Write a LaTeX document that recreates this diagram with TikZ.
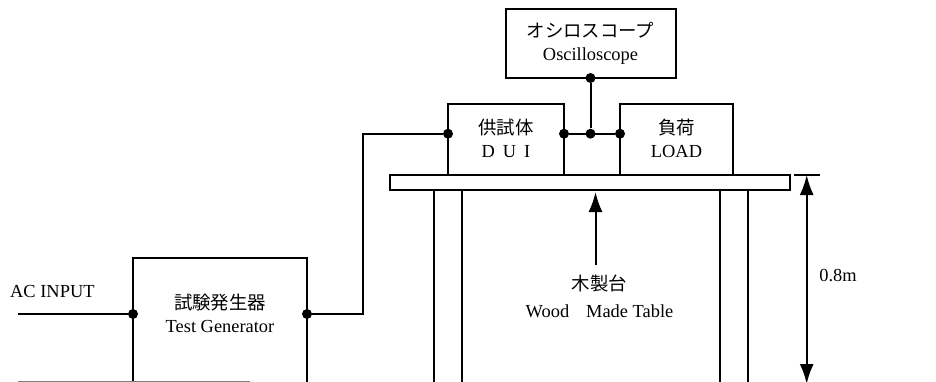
\documentclass[tikz,border=0pt]{standalone}
\usepackage{fontspec}
\setmainfont{Liberation Serif}
\newfontfamily\jpfont{Noto Sans CJK JP}
\usepackage{xcolor}
\usetikzlibrary{positioning,arrows.meta}

\begin{document}
\begin{tikzpicture}[x=1pt, y=-1pt, font=\fontsize{18.4}{23}\selectfont,
	unit/.style={
		rectangle, draw = black, line width = 2pt, fill = white, align = center,
		inner sep = 0pt, outer sep = 0pt},
	label/.style={align = center, inner sep = 0pt, text depth = 0pt},
	dot/.style={circle, fill = black, inner sep = 0pt, minimum size = 10pt},
	wire/.style={line width = 2pt},
	leg/.style={line width = 1.8pt},
	pointer/.style={line width = 2pt, -{Latex[length=20pt,width=14pt]}}]
	\path[clip, use as bounding box] (0,0) rectangle (936,382);

	% table and units
	\node (table) [unit, minimum width = 400pt, minimum height = 15pt] at (590,182.5) {};
	\node (dui) [unit, minimum width = 116pt, minimum height = 71pt] at (506,139.5) {{\jpfont 供試体}\\D\hspace{8pt}U\hspace{8pt}I\rule[-2pt]{0pt}{0pt}};
	\node (load) [unit, minimum width = 113pt, minimum height = 71pt] at (676.5,139.5) {{\jpfont 負荷}\\LOAD\rule[-2pt]{0pt}{0pt}};
	\node (scope) [unit, minimum width = 170pt, minimum height = 69pt] at (590.5,43.5) {{\jpfont オシロスコープ}\\Oscilloscope\rule[-4pt]{0pt}{0pt}};
	\node (gen) [unit, minimum width = 174pt, minimum height = 200pt] at (220,358) {};
	\node (genlabel) [label] at (220,313) {{\jpfont 試験発生器}\\Test Generator};

	% contact points
	\node (duiin) [dot] at (dui.west |- 0,133.7) {};
	\node (duiout) [dot] at (dui.east |- 0,133.7) {};
	\node (loadin) [dot] at (load.west |- 0,133.7) {};
	\node (tap) [dot] at (scope.south |- 0,133.7) {};
	\node (scopein) [dot] at (scope.south) {};
	\node (genin) [dot] at (gen.west |- 0,314) {};
	\node (genout) [dot] at (gen.east |- 0,314) {};

	% wiring
	\coordinate (acin) at (18,314);
	\coordinate (acret) at (18,381.5);
	\coordinate (acretend) at (250,381.5);
	\coordinate (bend) at (362.5,314);
	\draw[wire] (acin) -- (genin);
	\draw[wire, gray] (acret) -- (acretend);
	\draw[wire] (genout) -- (bend) -- (bend |- duiin) -- (duiin);
	\draw[wire] (duiout) -- (loadin);
	\draw[wire] (scopein) -- (tap);

	% table legs
	\foreach \name/\px in {lega/434, legb/462, legc/720, legd/748} {
		\coordinate (\name) at (\px,382);
		\draw[leg] (\name |- table.south) -- (\name);
	}

	% table label
	\node (tabletext) [label] at (599.5,296) {{\jpfont 木製台}\\[4pt]Wood\hspace{17pt}Made Table};
	\coordinate (tablept) at (595.5,192);
	\coordinate (tablefoot) at (595.5,265);
	\draw[pointer] (tablefoot) -- (tablept);

	% height
	\coordinate (ticka) at (794,175);
	\coordinate (tickb) at (820,175);
	\coordinate (heightend) at (806.7,384);
	\draw[line width = 1.5pt] (ticka) -- (tickb);
	\draw[pointer, {Latex[length=20pt,width=14pt]}-{Latex[length=20pt,width=14pt]}] (heightend |- ticka) -- (heightend);
	\node (height) [label] at (838,275) {0.8m};
	\node (acinput) [label, anchor = west] at (10,291.5) {AC INPUT};
\end{tikzpicture}
\end{document}
